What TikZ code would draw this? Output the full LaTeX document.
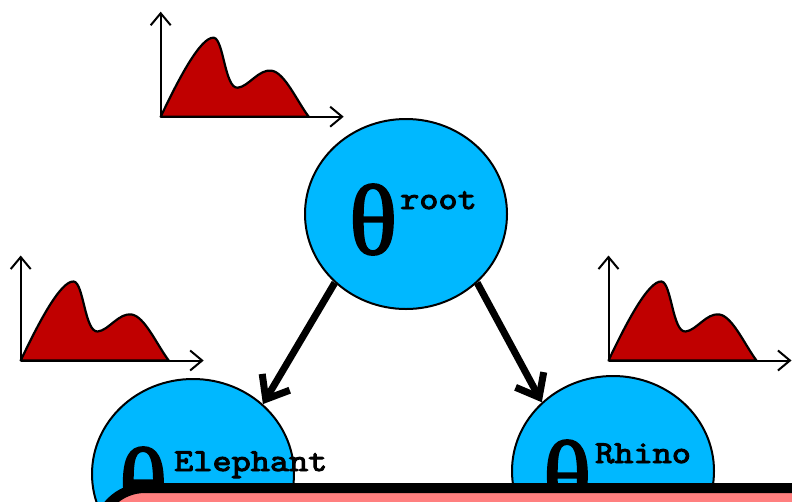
\documentclass[tikz,border=0pt]{standalone}
\usepackage{fontspec}
\newfontfamily\thetafont{Liberation Serif}[FakeBold=2]
\newfontfamily\supfont{lmmono10-regular.otf}[FakeBold=3,FakeStretch=1.14]
\usetikzlibrary{shapes.geometric,arrows.meta}
\definecolor{nodeblue}{RGB}{0,184,255}
\definecolor{densred}{RGB}{192,0,0}
\definecolor{panelpink}{RGB}{255,127,127}

\tikzset{
  paramnode/.style={ellipse, draw=black, line width=2pt, fill=nodeblue,
    minimum width=202pt, minimum height=190pt, inner sep=0pt},
  thetasym/.style={anchor=base west, inner sep=0pt, font=\thetafont\fontsize{100}{100}\selectfont},
  suplabel/.style={anchor=base west, inner sep=0pt, font=\supfont\fontsize{32}{32}\selectfont},
  edge/.style={line width=7pt, -{Straight Barb[length=20pt,width=32pt]}},
  axis/.style={line width=2pt, -{Straight Barb[length=12pt,width=20pt,line width=2pt]}},
  density/.pic={
    \filldraw[fill=densred, draw=black, line width=2.2pt, line join=round]
      (0,0) .. controls (18,-38) and (40,-80) .. (53,-79)
      .. controls (63,-78) and (64,-28) .. (77,-29)
      .. controls (88,-30) and (98,-48) .. (111,-46)
      .. controls (124,-44) and (136,-16) .. (148,0) -- cycle;
    \draw[axis] (0,0) -- (0,-105);
    \draw[axis] (0,0) -- (183,0);
  }
}

\begin{document}
\begin{tikzpicture}[x=1pt,y=-1pt]
\useasboundingbox (0,0) rectangle (792,501);
\clip (0,0) rectangle (792,501);

% prior densities
\pic at (160.7,116.7) {density};
\pic at (20.7,360.5) {density};
\pic at (608.5,360.5) {density};

% parameter nodes
\node[paramnode] (root) at (406,214) {};
\node[paramnode] (eleph) at (193,474) {};
\node[paramnode] (rhino) at (613,471) {};

\node[thetasym] (rootsym) at (349,254) {θ};
\node[suplabel] (rootsup) at (400,209) {root};
\node[thetasym] (elephsym) at (119,517) {θ};
\node[suplabel] (elephsup) at (174,471) {Elephant};
\node[thetasym] (rhinosym) at (543,510) {θ};
\node[suplabel] (rhinosup) at (595,463) {Rhino};

% hierarchy edges
\draw[edge] (root.-136) -- (eleph.45);
\draw[edge] (root.-44) -- (rhino.136);

% overlapping panel
\draw[line width=10pt, fill=panelpink, rounded corners=48pt] (97,488) rectangle (900,700);
\end{tikzpicture}
\end{document}
